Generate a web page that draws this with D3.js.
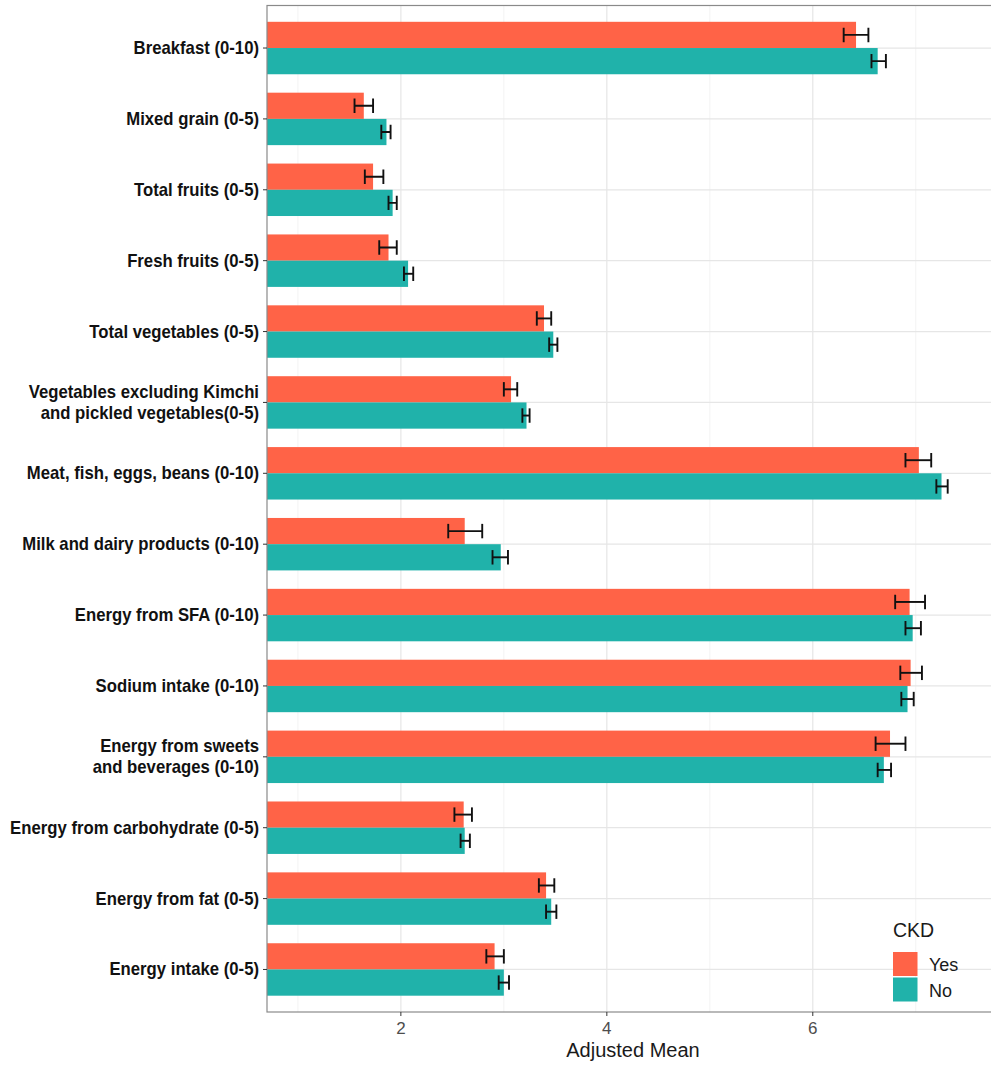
<!DOCTYPE html>
<html>
<head>
<meta charset="utf-8">
<script src="https://cdn.jsdelivr.net/npm/d3@7"></script>
<style>
  html, body { margin: 0; padding: 0; background: #fff; }
  svg { display: block; }
  text { font-family: "Liberation Sans", Arial, sans-serif; }
</style>
</head>
<body>
<svg id="chart" width="991" height="1065"></svg>
<script>
// ---- data ----
const categories = [
  ["Breakfast (0-10)"],
  ["Mixed grain (0-5)"],
  ["Total fruits (0-5)"],
  ["Fresh fruits (0-5)"],
  ["Total vegetables (0-5)"],
  ["Vegetables excluding Kimchi", "and pickled vegetables(0-5)"],
  ["Meat, fish, eggs, beans (0-10)"],
  ["Milk and dairy products (0-10)"],
  ["Energy from SFA (0-10)"],
  ["Sodium intake (0-10)"],
  ["Energy from sweets", "and beverages (0-10)"],
  ["Energy from carbohydrate (0-5)"],
  ["Energy from fat (0-5)"],
  ["Energy intake (0-5)"]
];
const yesMean  = [6.42, 1.64, 1.73, 1.88, 3.39, 3.07, 7.03, 2.62, 6.94, 6.95, 6.75, 2.61, 3.41, 2.91];
const yesLower = [6.30, 1.55, 1.65, 1.79, 3.32, 3.00, 6.90, 2.46, 6.80, 6.85, 6.61, 2.52, 3.34, 2.83];
const yesUpper = [6.54, 1.73, 1.83, 1.96, 3.46, 3.13, 7.15, 2.79, 7.09, 7.06, 6.90, 2.69, 3.49, 3.00];
const noMean   = [6.63, 1.86, 1.92, 2.07, 3.48, 3.22, 7.25, 2.97, 6.97, 6.92, 6.69, 2.62, 3.46, 3.00];
const noLower  = [6.57, 1.81, 1.88, 2.03, 3.44, 3.18, 7.20, 2.89, 6.90, 6.86, 6.63, 2.58, 3.41, 2.95];
const noUpper  = [6.71, 1.90, 1.96, 2.12, 3.52, 3.25, 7.31, 3.04, 7.05, 6.98, 6.76, 2.67, 3.51, 3.05];
const groups = ["Yes", "No"];
const groupColors = ["#FF6347", "#20B2AA"];
const xTicks = [2, 4, 6];
const xMinor = [1, 3, 5, 7];
const xTitle = "Adjusted Mean";
const legendTitle = "CKD";

// ---- layout ----
const svg = d3.select("#chart");
const panel = { left: 267, top: 5.5, right: 1000, bottom: 1012 };

const x = d3.scaleLinear().domain([0.7, 7.75]).range([267, 993]);
const catIdx = d3.range(categories.length);
const y = d3.scalePoint().domain(catIdx).range([panel.top, panel.bottom]).padding(0.6);
const step = y.step();
const barH = step * 0.37;

const series = [
  { name: "Yes", mean: yesMean, lo: yesLower, hi: yesUpper, color: groupColors[0], off: -barH },
  { name: "No",  mean: noMean,  lo: noLower,  hi: noUpper,  color: groupColors[1], off: 0 }
];

svg.append("defs").append("clipPath").attr("id", "clip")
  .append("rect").attr("x", panel.left).attr("y", panel.top)
  .attr("width", panel.right - panel.left).attr("height", panel.bottom - panel.top);

const g = svg.append("g");

g.append("rect").attr("x", panel.left).attr("y", panel.top)
  .attr("width", panel.right - panel.left).attr("height", panel.bottom - panel.top)
  .attr("fill", "#fff");

// grid
const grid = g.append("g").attr("clip-path", "url(#clip)");
grid.selectAll(".minor").data(xMinor).join("line")
  .attr("x1", d => x(d)).attr("x2", d => x(d))
  .attr("y1", panel.top).attr("y2", panel.bottom)
  .attr("stroke", "#f0f0f0").attr("stroke-width", 0.8);
grid.selectAll(".major").data(xTicks).join("line")
  .attr("x1", d => x(d)).attr("x2", d => x(d))
  .attr("y1", panel.top).attr("y2", panel.bottom)
  .attr("stroke", "#e6e6e6").attr("stroke-width", 1.2);
grid.selectAll(".hmajor").data(catIdx).join("line")
  .attr("x1", panel.left).attr("x2", panel.right)
  .attr("y1", d => y(d)).attr("y2", d => y(d))
  .attr("stroke", "#e6e6e6").attr("stroke-width", 1.2);

// bars
const bars = g.append("g").attr("clip-path", "url(#clip)");
series.forEach(s => {
  bars.selectAll(null).data(catIdx).join("rect")
    .attr("x", x.range()[0] - 5)
    .attr("y", d => y(d) + s.off)
    .attr("width", d => x(s.mean[d]) - (x.range()[0] - 5))
    .attr("height", barH)
    .attr("fill", s.color);
});

// error bars
const cap = barH * 0.55;
series.forEach(s => {
  const eb = bars.append("g").attr("stroke", "#111").attr("stroke-width", 1.9).attr("fill", "none");
  catIdx.forEach(d => {
    const cy = y(d) + s.off + barH / 2;
    eb.append("line").attr("x1", x(s.lo[d])).attr("x2", x(s.hi[d])).attr("y1", cy).attr("y2", cy);
    eb.append("line").attr("x1", x(s.lo[d])).attr("x2", x(s.lo[d])).attr("y1", cy - cap / 2).attr("y2", cy + cap / 2);
    eb.append("line").attr("x1", x(s.hi[d])).attr("x2", x(s.hi[d])).attr("y1", cy - cap / 2).attr("y2", cy + cap / 2);
  });
});

// panel border
g.append("rect").attr("x", panel.left).attr("y", panel.top)
  .attr("width", panel.right - panel.left).attr("height", panel.bottom - panel.top)
  .attr("fill", "none").attr("stroke", "#8a8a8a").attr("stroke-width", 1.2);

// y axis ticks and labels
const yAx = g.append("g");
catIdx.forEach(d => {
  const cy = y(d);
  yAx.append("line").attr("x1", panel.left - 4).attr("x2", panel.left)
    .attr("y1", cy).attr("y2", cy).attr("stroke", "#333").attr("stroke-width", 1);
  const lines = categories[d];
  const lh = 21;
  const t = yAx.append("text").attr("text-anchor", "end")
    .attr("transform", `translate(${panel.left - 8},0) scale(0.955,1)`)
    .attr("font-size", "17.5px").attr("font-weight", "bold").attr("fill", "#111");
  lines.forEach((ln, i) => {
    t.append("tspan").attr("x", 0)
      .attr("y", cy + 6 + (i - (lines.length - 1) / 2) * lh).text(ln);
  });
});

// x axis
const xAx = g.append("g");
xTicks.forEach(v => {
  xAx.append("line").attr("x1", x(v)).attr("x2", x(v))
    .attr("y1", panel.bottom).attr("y2", panel.bottom + 4)
    .attr("stroke", "#333").attr("stroke-width", 1);
  xAx.append("text").attr("x", x(v)).attr("y", panel.bottom + 22)
    .attr("text-anchor", "middle").attr("font-size", "17px").attr("fill", "#4d4d4d").text(v);
});
svg.append("text").attr("x", (panel.left + 991) / 2 + 4).attr("y", 1057)
  .attr("text-anchor", "middle").attr("font-size", "20px").attr("fill", "#1a1a1a").text(xTitle);

// legend
const lg = svg.append("g");
lg.append("text").attr("x", 893).attr("y", 937).attr("font-size", "19.5px").attr("fill", "#1a1a1a").text(legendTitle);
groups.forEach((name, i) => {
  const top = 952 + i * 25.5;
  lg.append("rect").attr("x", 893).attr("y", top).attr("width", 24.5).attr("height", 24)
    .attr("fill", groupColors[i]);
  lg.append("text").attr("x", 929).attr("y", top + 19).attr("font-size", "18px")
    .attr("fill", "#1a1a1a").text(name);
});
</script>
</body>
</html>
